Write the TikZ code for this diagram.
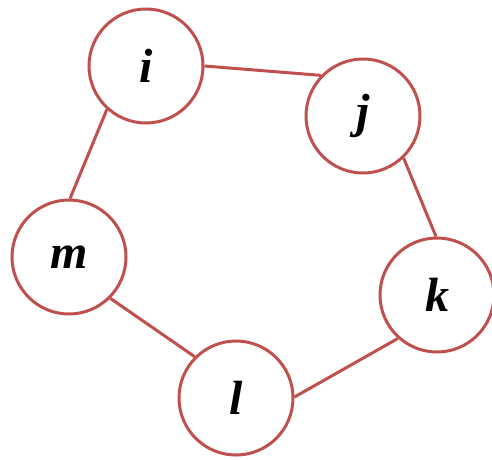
\documentclass[tikz,border=0pt]{standalone}
\usepackage{fontspec}
\setmainfont{Liberation Serif}
\definecolor{edgered}{RGB}{192,80,77}
\tikzset{
  vert/.style={circle, draw=edgered, line width=3pt, minimum size=114pt, inner sep=0pt, fill=white,
    font=\fontsize{48}{48}\selectfont\bfseries\itshape},
  link/.style={draw=edgered, line width=3pt}
}
\begin{document}
\begin{tikzpicture}[x=1pt,y=-1pt]
\useasboundingbox (0,0) rectangle (492,459);
\node[vert] (i) at (146,66) {i};
\node[vert] (j) at (363,116) {j};
\node[vert] (m) at (69,257) {m};
\node[vert] (k) at (437,295) {k};
\node[vert] (l) at (236,398) {l};
\draw[link] (i.0) -- (j.136);
\draw[link] (i.228) -- (m.89);
\draw[link] (j.314) -- (k.91);
\draw[link] (k.228) -- (l.1);
\draw[link] (m.-45) -- (l.135);
\end{tikzpicture}
\end{document}
